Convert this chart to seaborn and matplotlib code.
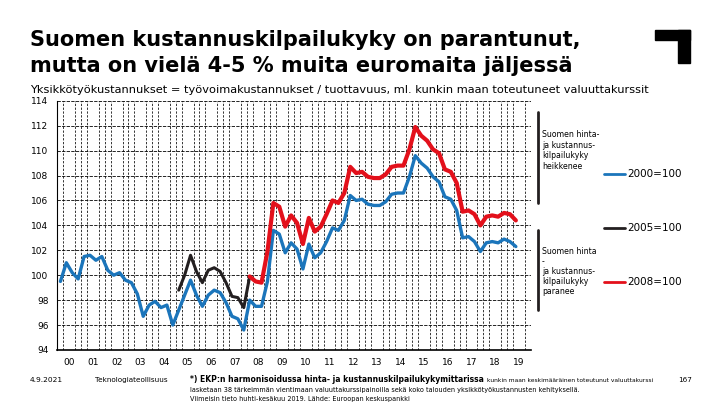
import numpy as np
import pandas as pd
import seaborn as sns
import matplotlib.pyplot as plt
from matplotlib.patches import Rectangle

# quarterly index, 2000Q1 .. 2019Q2
years = [f"{y:02d}" for y in range(0, 20)]

blue_2000 = [99.5, 101.0, 100.2, 99.7, 101.5, 101.6, 101.2, 101.5, 100.4, 100.0,
             100.2, 99.6, 99.4, 98.5, 96.7, 97.6, 97.9, 97.4, 97.6, 96.0,
             97.2, 98.4, 99.6, 98.4, 97.5, 98.4, 98.8, 98.6, 97.8, 96.7,
             96.5, 95.6, 98.0, 97.5, 97.5, 99.5, 103.6, 103.3, 101.8, 102.6,
             102.1, 100.5, 102.5, 101.4, 101.8, 102.7, 103.8, 103.6, 104.4, 106.4,
             106.0, 106.1, 105.7, 105.6, 105.6, 105.9, 106.5, 106.6, 106.6, 107.9,
             109.6, 109.0, 108.6, 107.9, 107.5, 106.3, 106.1, 105.2, 103.0, 103.1,
             102.7, 101.9, 102.6, 102.7, 102.6, 102.9, 102.7, 102.3]

# starts 2005Q1 (index 20)
black_2005 = [98.8, 100.0, 101.6, 100.3, 99.4, 100.4, 100.6, 100.3, 99.4, 98.3,
              98.2, 97.4, 99.9]

# starts 2008Q1 (index 32)
red_2008 = [99.9, 99.5, 99.4, 101.9, 105.8, 105.5, 103.9, 104.8, 104.2, 102.5,
            104.6, 103.5, 103.9, 104.9, 106.0, 105.8, 106.6, 108.7, 108.2, 108.3,
            107.9, 107.8, 107.8, 108.1, 108.7, 108.8, 108.8, 110.1, 111.9, 111.2,
            110.8, 110.1, 109.8, 108.5, 108.3, 107.4, 105.1, 105.2, 104.9, 104.0,
            104.7, 104.8, 104.7, 105.0, 104.9, 104.4]

legend_labels = ["2000=100", "2005=100", "2008=100"]
colors = ["#1b75bb", "#231f20", "#e3101b"]

df = pd.concat([
    pd.DataFrame({"q": np.arange(0, len(blue_2000)), "v": blue_2000, "s": legend_labels[0]}),
    pd.DataFrame({"q": np.arange(20, 20 + len(black_2005)), "v": black_2005, "s": legend_labels[1]}),
    pd.DataFrame({"q": np.arange(32, 32 + len(red_2008)), "v": red_2008, "s": legend_labels[2]}),
])

sns.set_style("white")
plt.rcParams['font.family'] = ['DejaVu Sans']
plt.rcParams['text.color'] = 'black'
plt.rcParams['xtick.color'] = 'black'
plt.rcParams['ytick.color'] = 'black'

fig = plt.figure(figsize=(7.2, 4.05), dpi=100)
ax = fig.add_axes([0.079, 0.136, 0.658, 0.615])

for lab, col, lw in zip(legend_labels, colors, [2.4, 2.2, 3.0]):
    sns.lineplot(data=df[df.s == lab], x="q", y="v", color=col, lw=lw, ax=ax,
                 legend=False, zorder=3)

ax.set_xlim(-0.6, 79.5)
ax.set_ylim(94, 114)
ax.set_yticks(np.arange(94, 115, 2))
ax.set_xticks([4 * i + 1.5 for i in range(len(years))])
ax.set_xticklabels(years)
ax.set_xticks(np.arange(-0.5, 80, 1), minor=True)
ax.tick_params(axis='y', labelsize=6.5, direction='out', length=4, width=0.8, color='k', pad=2)
ax.tick_params(axis='x', which='major', labelsize=6.5, length=0, pad=6)
ax.tick_params(axis='x', which='minor', direction='inout', length=4, width=0.8, color='k')
ax.grid(axis='y', which='major', color='k', lw=0.6, ls=(0, (4, 1.5)))
ax.grid(axis='x', which='minor', color='k', lw=0.55, ls=(0, (3, 2)))
ax.set_xlabel("")
ax.set_ylabel("")
for sp in ["top", "right"]:
    ax.spines[sp].set_visible(False)
ax.spines["left"].set_color('k')
ax.spines["bottom"].set_color('k')
ax.spines["bottom"].set_linewidth(1.2)

# titles
fig.text(0.042, 0.90, "Suomen kustannuskilpailukyky on parantunut,", fontsize=15,
         fontweight='bold', va='center')
fig.text(0.042, 0.838, "mutta on vielä 4-5 % muita euromaita jäljessä", fontsize=15,
         fontweight='bold', va='center')
fig.text(0.042, 0.778, "Yksikkötyökustannukset = työvoimakustannukset / tuottavuus, ml. kunkin maan toteutuneet valuuttakurssit",
         fontsize=8.2, va='center')

# corner logo
fig.patches.append(Rectangle((655 / 720, 1 - 40 / 405), 35 / 720, 10 / 405,
                             transform=fig.transFigure, color='k'))
fig.patches.append(Rectangle((678 / 720, 1 - 63 / 405), 12 / 720, 33 / 405,
                             transform=fig.transFigure, color='k'))

# side arrows and notes
fig.add_artist(plt.Line2D([538 / 720, 538 / 720], [1 - 203 / 405, 1 - 112 / 405],
                          transform=fig.transFigure, color='#231f20', lw=2))
fig.add_artist(plt.Line2D([538 / 720, 538 / 720], [1 - 230 / 405, 1 - 310 / 405],
                          transform=fig.transFigure, color='#231f20', lw=2))
fig.text(542 / 720, 1 - 130 / 405, "Suomen hinta-\nja kustannus-\nkilpailukyky\nheikkenee",
         fontsize=5.6, va='top', linespacing=1.25)
fig.text(542 / 720, 1 - 247 / 405, "Suomen hinta\n-\nja kustannus-\nkilpailukyky\nparanee",
         fontsize=5.6, va='top', linespacing=1.15)

for lab, col, yp in zip(legend_labels, colors, [174, 228, 282]):
    fig.add_artist(plt.Line2D([604 / 720, 625 / 720], [1 - yp / 405, 1 - yp / 405],
                              transform=fig.transFigure, color=col, lw=2))
    fig.text(627 / 720, 1 - yp / 405, lab, fontsize=7.5, va='center')

# footer
fig.text(30 / 720, 1 - 380 / 405, "4.9.2021", fontsize=5.4, va='center')
fig.text(95 / 720, 1 - 380 / 405, "Teknologiateollisuus", fontsize=5.2, va='center')
fig.text(190 / 720, 1 - 380 / 405,
         "*) EKP:n harmonisoidussa hinta- ja kustannuskilpailukykymittarissa",
         fontsize=5.5, fontweight='bold', va='center')
fig.text(487 / 720, 1 - 380 / 405,
         "kunkin maan keskimääräinen toteutunut valuuttakurssi",
         fontsize=4.35, va='center')
fig.text(190 / 720, 1 - 390 / 405,
         "lasketaan 38 tärkeimmän vientimaan valuuttakurssipainoilla sekä koko talouden yksikkötyökustannusten kehityksellä.",
         fontsize=4.7, va='center')
fig.text(190 / 720, 1 - 399 / 405,
         "Viimeisin tieto huhti-kesäkuu 2019. Lähde: Euroopan keskuspankki",
         fontsize=4.7, va='center')
fig.text(678 / 720, 1 - 380 / 405, "167", fontsize=5.2, va='center')

fig.savefig("out.png", dpi=100)
